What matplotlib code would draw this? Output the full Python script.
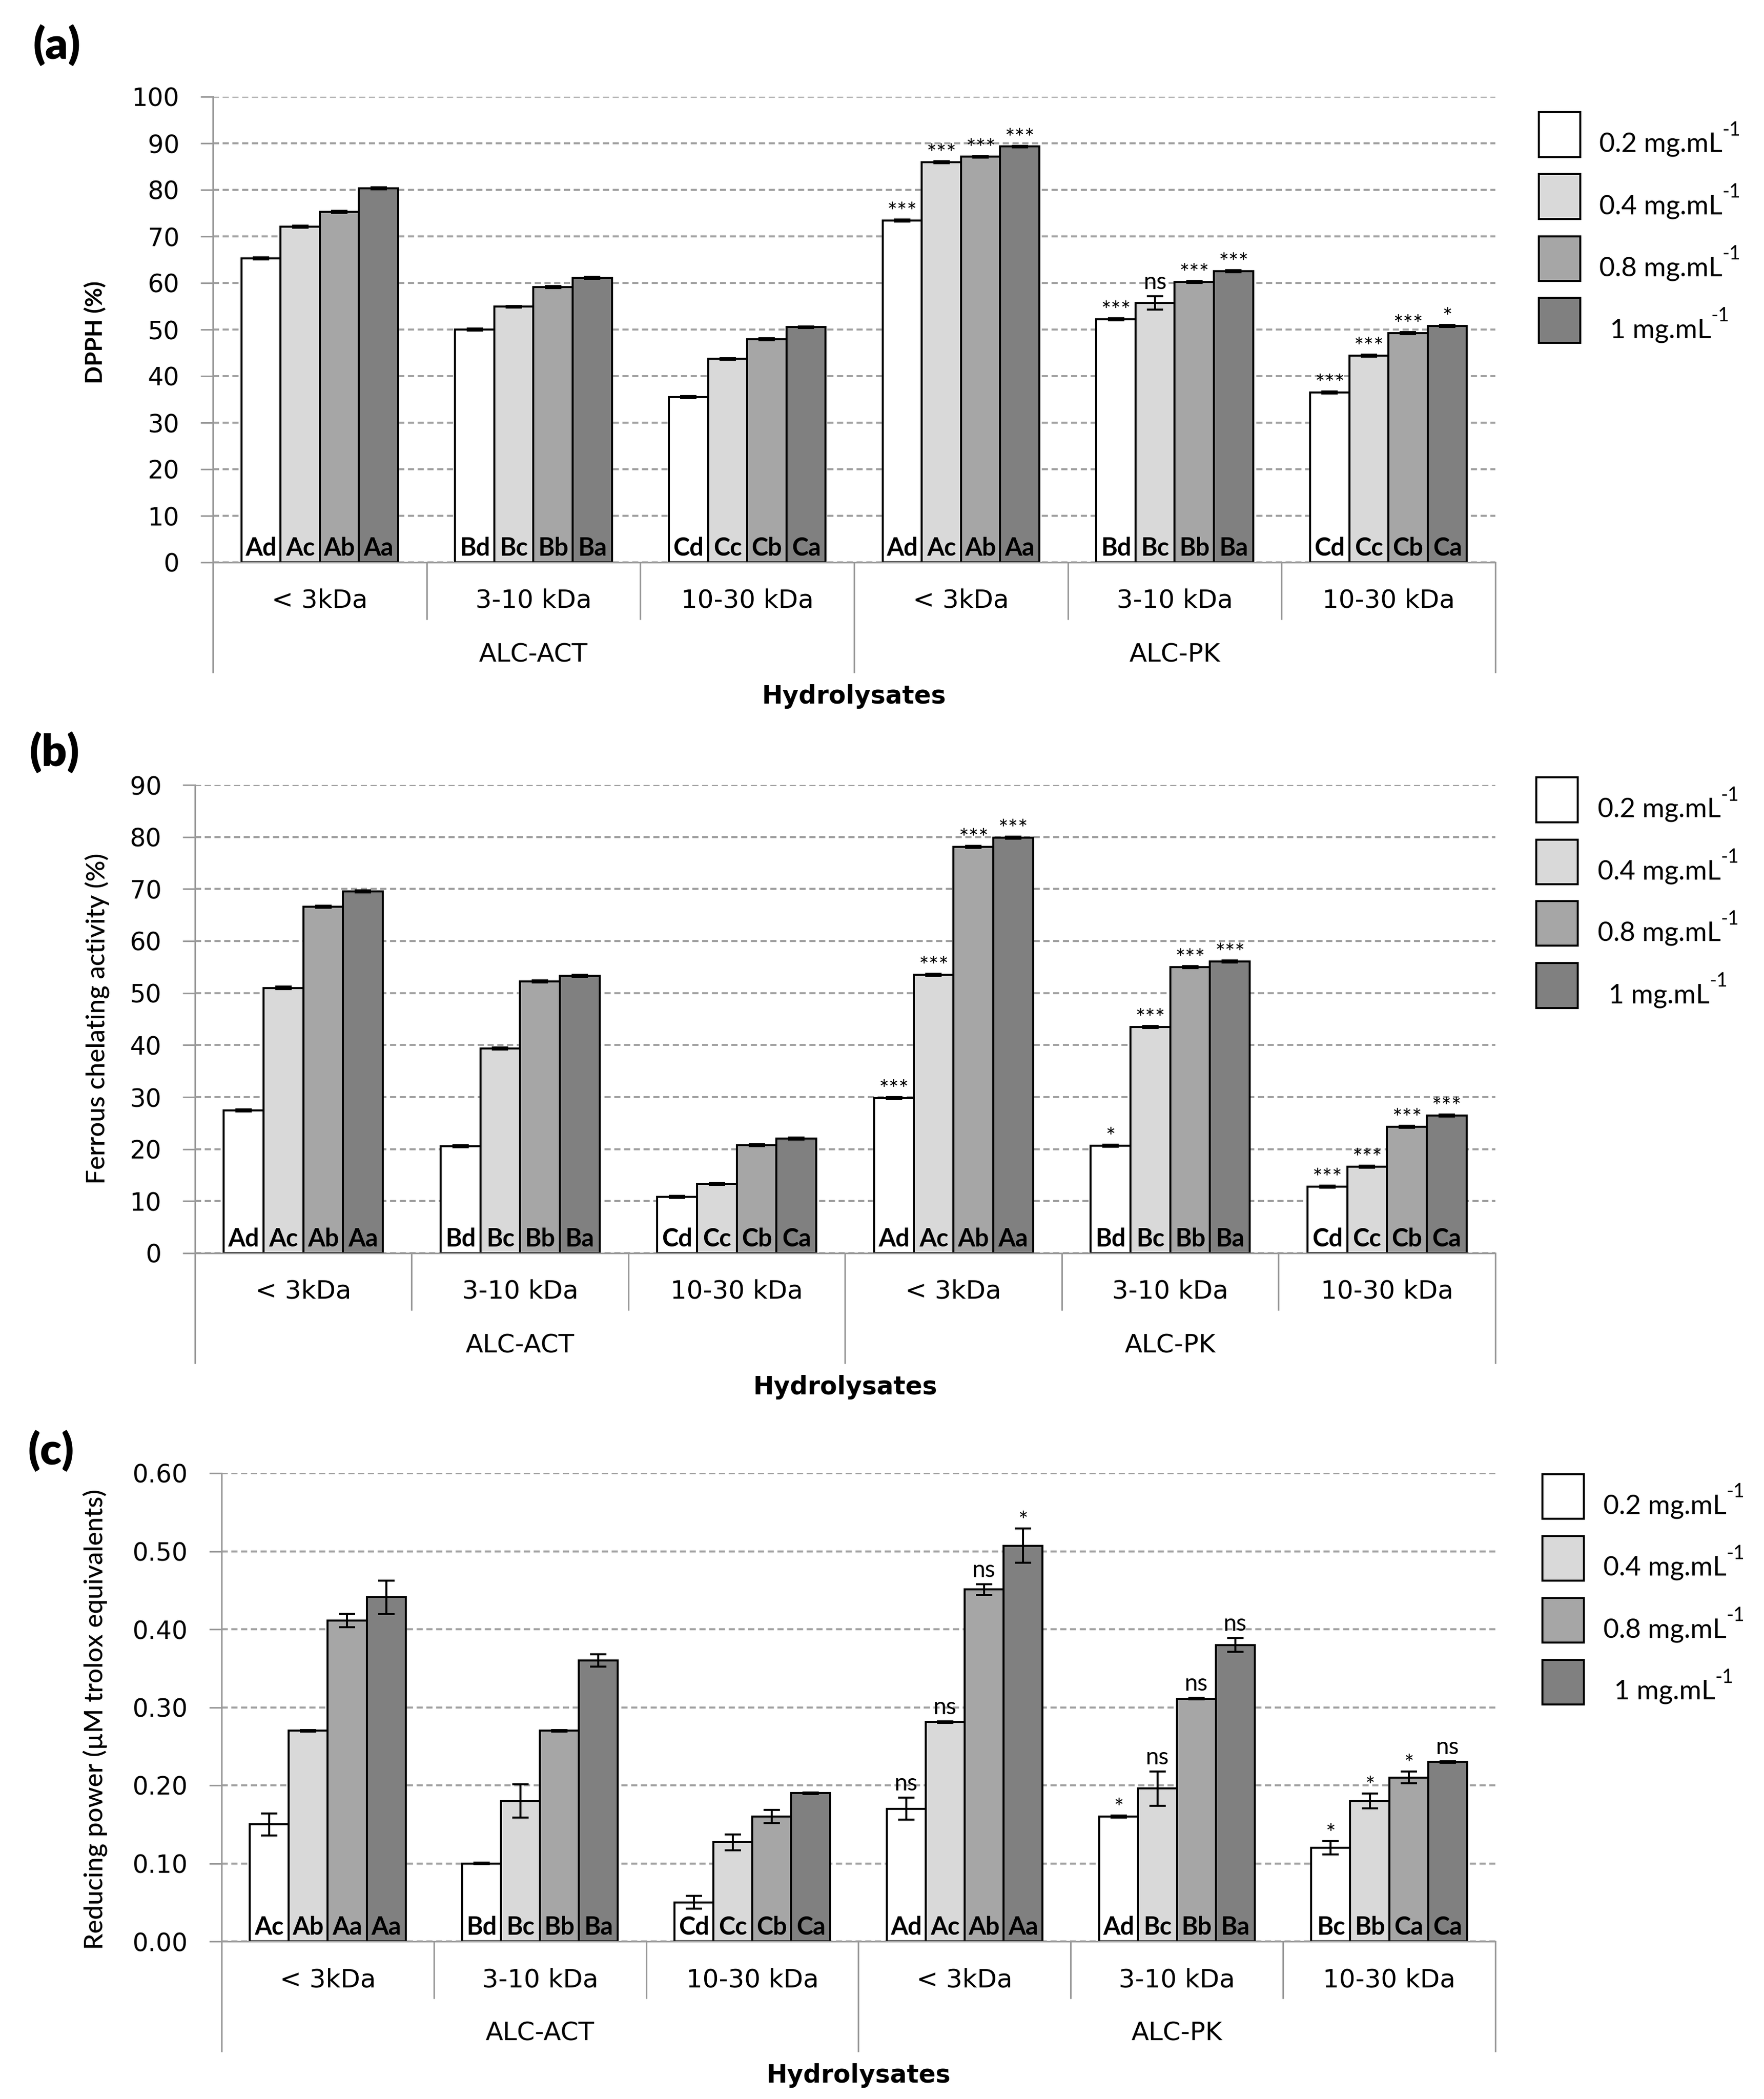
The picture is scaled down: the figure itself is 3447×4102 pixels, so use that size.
import matplotlib
matplotlib.use('Agg')
import matplotlib.pyplot as plt
import matplotlib.transforms as mtransforms
from matplotlib.patches import Rectangle
from matplotlib.ticker import MultipleLocator, FormatStrFormatter

# ---------------- data ----------------
sizes = ['< 3kDa', '3-10 kDa', '10-30 kDa', '< 3kDa', '3-10 kDa', '10-30 kDa']
groups = ['ALC-ACT', 'ALC-PK']
conc_labels = ['0.2 mg.mL', '0.4 mg.mL', '0.8 mg.mL', '1 mg.mL']
conc_sup = '-1'
colors = ['#FFFFFF', '#D9D9D9', '#A6A6A6', '#808080']

# (a) DPPH (%)
dpph_02 = [65.3, 50.0, 35.5, 73.4, 52.2, 36.5]
dpph_04 = [72.1, 54.9, 43.7, 85.9, 55.7, 44.4]
dpph_08 = [75.3, 59.1, 47.9, 87.1, 60.2, 49.2]
dpph_1 = [80.3, 61.1, 50.5, 89.3, 62.5, 50.8]
dpph_err_02 = [0.2, 0.2, 0.2, 0.2, 0.2, 0.2]
dpph_err_04 = [0.2, 0.2, 0.2, 0.2, 1.4, 0.2]
dpph_err_08 = [0.2, 0.2, 0.2, 0.2, 0.2, 0.2]
dpph_err_1 = [0.2, 0.2, 0.2, 0.2, 0.2, 0.2]
dpph_let_02 = ['Ad', 'Bd', 'Cd', 'Ad', 'Bd', 'Cd']
dpph_let_04 = ['Ac', 'Bc', 'Cc', 'Ac', 'Bc', 'Cc']
dpph_let_08 = ['Ab', 'Bb', 'Cb', 'Ab', 'Bb', 'Cb']
dpph_let_1 = ['Aa', 'Ba', 'Ca', 'Aa', 'Ba', 'Ca']
dpph_sig_02 = ['', '', '', '***', '***', '***']
dpph_sig_04 = ['', '', '', '***', 'ns', '***']
dpph_sig_08 = ['', '', '', '***', '***', '***']
dpph_sig_1 = ['', '', '', '***', '***', '*']

# (b) Ferrous chelating activity (%)
fca_02 = [27.4, 20.6, 10.8, 29.8, 20.7, 12.8]
fca_04 = [51.0, 39.3, 13.3, 53.5, 43.5, 16.6]
fca_08 = [66.6, 52.2, 20.8, 78.1, 55.0, 24.3]
fca_1 = [69.5, 53.3, 22.0, 79.9, 56.1, 26.5]
fca_err_02 = [0.2, 0.2, 0.2, 0.2, 0.2, 0.2]
fca_err_04 = [0.2, 0.2, 0.2, 0.2, 0.2, 0.2]
fca_err_08 = [0.2, 0.2, 0.2, 0.2, 0.2, 0.2]
fca_err_1 = [0.2, 0.2, 0.2, 0.2, 0.2, 0.2]
fca_let_02 = ['Ad', 'Bd', 'Cd', 'Ad', 'Bd', 'Cd']
fca_let_04 = ['Ac', 'Bc', 'Cc', 'Ac', 'Bc', 'Cc']
fca_let_08 = ['Ab', 'Bb', 'Cb', 'Ab', 'Bb', 'Cb']
fca_let_1 = ['Aa', 'Ba', 'Ca', 'Aa', 'Ba', 'Ca']
fca_sig_02 = ['', '', '', '***', '*', '***']
fca_sig_04 = ['', '', '', '***', '***', '***']
fca_sig_08 = ['', '', '', '***', '***', '***']
fca_sig_1 = ['', '', '', '***', '***', '***']

# (c) Reducing power (uM trolox equivalents)
rp_02 = [0.150, 0.100, 0.050, 0.170, 0.160, 0.120]
rp_04 = [0.270, 0.180, 0.127, 0.281, 0.196, 0.180]
rp_08 = [0.411, 0.270, 0.160, 0.451, 0.311, 0.210]
rp_1 = [0.441, 0.360, 0.190, 0.507, 0.380, 0.230]
rp_err_02 = [0.014, 0.001, 0.0083, 0.014, 0.001, 0.0083]
rp_err_04 = [0.001, 0.021, 0.010, 0.001, 0.022, 0.0097]
rp_err_08 = [0.0085, 0.001, 0.0085, 0.007, 0.001, 0.0077]
rp_err_1 = [0.021, 0.0077, 0.001, 0.022, 0.009, 0.001]
rp_let_02 = ['Ac', 'Bd', 'Cd', 'Ad', 'Ad', 'Bc']
rp_let_04 = ['Ab', 'Bc', 'Cc', 'Ac', 'Bc', 'Bb']
rp_let_08 = ['Aa', 'Bb', 'Cb', 'Ab', 'Bb', 'Ca']
rp_let_1 = ['Aa', 'Ba', 'Ca', 'Aa', 'Ba', 'Ca']
rp_sig_02 = ['', '', '', 'ns', '*', '*']
rp_sig_04 = ['', '', '', 'ns', 'ns', '*']
rp_sig_08 = ['', '', '', 'ns', 'ns', '*']
rp_sig_1 = ['', '', '', '*', 'ns', 'ns']

# ---------------- layout ----------------
W, H = 3448, 4102
DPI = 200
PX = 72.0 / DPI  # points per pixel

LATO = ['Lato', 'DejaVu Sans']
DEJA = ['DejaVu Sans']
GRID_C = '#A0A0A0'
AX_C = '#999999'


def fx(px):
    return px / W


def fy(py):
    return 1 - py / H


fig = plt.figure(figsize=(W / DPI, H / DPI), dpi=DPI)
fig.patch.set_facecolor('white')

panels = [
    dict(tag='(a)', tag_xy=(111, 89), left=416, right=2922, top=189, bottom=1099,
         ymax=100, step=10, fmt='%d', ylabel='DPPH (%)', ylab_xy=(186, 649),
         ylab_kw=dict(fontsize=16.5, fontweight='bold'),
         vals=[dpph_02, dpph_04, dpph_08, dpph_1],
         errs=[dpph_err_02, dpph_err_04, dpph_err_08, dpph_err_1],
         lets=[dpph_let_02, dpph_let_04, dpph_let_08, dpph_let_1],
         sigs=[dpph_sig_02, dpph_sig_04, dpph_sig_08, dpph_sig_1],
         leg_x=3007, leg_y=263, leg_tx=3263),
    dict(tag='(b)', tag_xy=(106, 1471), left=381, right=2922, top=1534, bottom=2449,
         ymax=90, step=10, fmt='%d', ylabel='Ferrous chelating activity (%)', ylab_xy=(190, 1991),
         ylab_kw=dict(fontsize=18.3, fontweight='medium'),
         vals=[fca_02, fca_04, fca_08, fca_1],
         errs=[fca_err_02, fca_err_04, fca_err_08, fca_err_1],
         lets=[fca_let_02, fca_let_04, fca_let_08, fca_let_1],
         sigs=[fca_sig_02, fca_sig_04, fca_sig_08, fca_sig_1],
         leg_x=3002, leg_y=1563, leg_tx=3260),
    dict(tag='(c)', tag_xy=(100, 2836), left=433, right=2922, top=2879, bottom=3794,
         ymax=0.6, step=0.1, fmt='%.2f', ylabel='Reducing power (µM trolox equivalents)',
         ylab_xy=(186, 3360), ylab_kw=dict(fontsize=18.3, fontweight='medium'),
         vals=[rp_02, rp_04, rp_08, rp_1],
         errs=[rp_err_02, rp_err_04, rp_err_08, rp_err_1],
         lets=[rp_let_02, rp_let_04, rp_let_08, rp_let_1],
         sigs=[rp_sig_02, rp_sig_04, rp_sig_08, rp_sig_1],
         leg_x=3014, leg_y=2924, leg_tx=3271),
]

BAR_W = 0.1835
legend_texts = []

for p in panels:
    axh = p['bottom'] - p['top']
    ax = fig.add_axes([fx(p['left']), fy(p['bottom']),
                       (p['right'] - p['left']) / W, axh / H])
    ax.set_xlim(0, 6)
    ax.set_ylim(0, p['ymax'])
    ax.set_axisbelow(True)
    for s in ['top', 'right']:
        ax.spines[s].set_visible(False)
    for s in ['left', 'bottom']:
        ax.spines[s].set_color(AX_C)
        ax.spines[s].set_linewidth(1.1)
    ax.yaxis.set_major_locator(MultipleLocator(p['step']))
    ax.yaxis.set_major_formatter(FormatStrFormatter(p['fmt']))
    ax.set_xticks([])
    ax.tick_params(axis='y', direction='out', length=8.6, width=1.1, color=AX_C,
                   pad=15, labelsize=17.5)
    for lab in ax.get_yticklabels():
        lab.set_family(DEJA)
    ax.yaxis.grid(True, color=GRID_C, linewidth=1.4, linestyle=(0, (3.1, 1.8)))

    for j in range(4):
        xs = [i + 0.5 + (j - 1.5) * BAR_W for i in range(6)]
        ax.bar(xs, p['vals'][j], width=BAR_W, color=colors[j], edgecolor='black',
               linewidth=1.4, zorder=2)
        ax.errorbar(xs, p['vals'][j], yerr=p['errs'][j], fmt='none', ecolor='black',
                    elinewidth=1.4, capsize=5.8, capthick=1.4, zorder=3)
        for i in range(6):
            ax.annotate(p['lets'][j][i], xy=(xs[i], 0), xytext=(0, 13 * PX),
                        textcoords='offset points', ha='center', va='baseline',
                        fontsize=17.5, fontweight='bold', family=LATO, zorder=4)
            sig = p['sigs'][j][i]
            if sig:
                top = p['vals'][j][i] + p['errs'][j][i]
                off = 14 * PX if sig == 'ns' else 0
                ax.annotate(sig, xy=(xs[i], top), xytext=(0, off),
                            textcoords='offset points', ha='center', va='baseline',
                            fontsize=16.5, family=LATO, zorder=4)

    # category axis
    trans = mtransforms.blended_transform_factory(ax.transData, ax.transAxes)
    for x in range(7):
        length = 216 if x in (0, 3, 6) else 112
        ax.plot([x, x], [0, -length / axh], transform=trans, color=AX_C, lw=1.1,
                clip_on=False, solid_capstyle='butt')
    for i in range(6):
        ax.text(i + 0.5, -75 / axh, sizes[i], transform=trans, ha='center', va='center',
                fontsize=18, family=DEJA)
    for g in range(2):
        ax.text(1.5 + 3 * g, -180 / axh, groups[g], transform=trans, ha='center',
                va='center', fontsize=18, family=DEJA)
    ax.text(3, -262 / axh, 'Hydrolysates', transform=trans, ha='center', va='center',
            fontsize=17.5, fontweight='bold', family=DEJA)

    # y label and panel tag
    fig.text(fx(p['ylab_xy'][0]), fy(p['ylab_xy'][1]), p['ylabel'], rotation=90,
             ha='center', va='center', family=LATO, **p['ylab_kw'])
    fig.text(fx(p['tag_xy'][0]), fy(p['tag_xy'][1]), p['tag'], ha='center', va='center',
             fontsize=31, fontweight='heavy', family=LATO)

    # legend
    for k in range(4):
        cy = p['leg_y'] + k * 121
        fig.add_artist(Rectangle((fx(p['leg_x']), fy(cy + 43.5)), 81 / W, 87 / H,
                                 transform=fig.transFigure, facecolor=colors[k],
                                 edgecolor='black', linewidth=1.4))
        t_main = fig.text(0, 0, conc_labels[k], ha='left', va='baseline',
                          fontsize=19, family=LATO)
        t_sup = fig.text(0, 0, conc_sup, ha='left', va='baseline',
                         fontsize=13.5, family=LATO)
        legend_texts.append((t_main, t_sup, p['leg_tx'], cy + 34))

renderer = fig.canvas.get_renderer()
for t_main, t_sup, tcx, base in legend_texts:
    wm = t_main.get_window_extent(renderer).width
    ws = t_sup.get_window_extent(renderer).width
    left = tcx - (wm + ws) / 2
    t_main.set_position((fx(left), fy(base)))
    t_sup.set_position((fx(left + wm), fy(base - 32)))

fig.savefig('out.png', dpi=DPI, facecolor='white')
